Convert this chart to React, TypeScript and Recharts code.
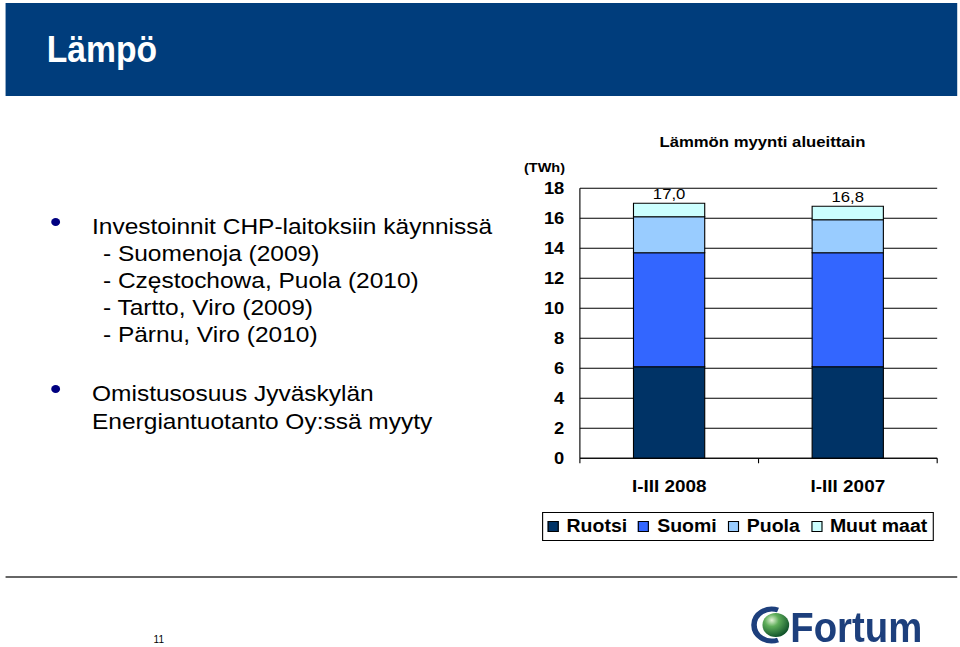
import React from "react"
import { BarChart, Bar, XAxis, YAxis, CartesianGrid, LabelList } from "recharts"

// slide is 4:3, shown stretched to 960 wide
const STRETCH = 960 / 862.5

const categories = ["I-III 2008", "I-III 2007"]
const ruotsi = [6.1, 6.1]
const suomi = [7.6, 7.6]
const puola = [2.4, 2.2]
const muutMaat = [0.9, 0.9]
const totals = [17.0, 16.8]
const yTicks = [0, 2, 4, 6, 8, 10, 12, 14, 16, 18]

const series = [
  { key: "ruotsi", name: "Ruotsi", color: "#003366", values: ruotsi },
  { key: "suomi", name: "Suomi", color: "#3366FF", values: suomi },
  { key: "puola", name: "Puola", color: "#99CCFF", values: puola },
  { key: "muut", name: "Muut maat", color: "#CCFFFF", values: muutMaat },
]

const data = categories.map((c, i) => {
  const row: Record<string, string | number> = { name: c, total: totals[i] }
  series.forEach((s) => (row[s.key] = s.values[i]))
  return row
})

const bulletLines = [
  { text: "Investoinnit CHP-laitoksiin käynnissä", top: 212.7, x: 82.7, bullet: true },
  { text: "- Suomenoja (2009)", top: 239.7, x: 92.5 },
  { text: "- Częstochowa, Puola (2010)", top: 266.7, x: 92.5 },
  { text: "- Tartto, Viro (2009)", top: 293.7, x: 92.5 },
  { text: "- Pärnu, Viro (2010)", top: 320.7, x: 92.5 },
  { text: "Omistusosuus Jyväskylän", top: 379.7, x: 82.7, bullet: true },
  { text: "Energiantuotanto Oy:ssä myyty", top: 407.7, x: 82.7 },
]

const sans = "'Liberation Sans', Arial, Helvetica, sans-serif"
const TICK_GAP = 22 // tickSize 6 + tickMargin 16

// category label plus the small marks at category boundaries
function CategoryTick(props: any) {
  const { x, y, payload, index, visibleTicksCount } = props
  const half = payload?.offset ?? 80
  const axisY = y - TICK_GAP
  return (
    <g>
      <line x1={x - half} x2={x - half} y1={axisY} y2={axisY + 5} stroke="#000" />
      {index === visibleTicksCount - 1 && (
        <line x1={x + half} x2={x + half} y1={axisY} y2={axisY + 5} stroke="#000" />
      )}
      <text
        x={x}
        y={y}
        dy="0.71em"
        textAnchor="middle"
        fill="#000"
        fontSize={17}
        fontWeight="bold"
        fontFamily={sans}
      >
        {payload.value}
      </text>
    </g>
  )
}

function FortumLogo() {
  return (
    <svg width={218} height={48} style={{ position: "absolute", left: 640, top: 600 }}>
      <defs>
        <radialGradient id="ball" cx="35%" cy="30%" r="75%">
          <stop offset="0%" stopColor="#e4f3d8" />
          <stop offset="35%" stopColor="#5fae5a" />
          <stop offset="100%" stopColor="#0b4d27" />
        </radialGradient>
      </defs>
      <g transform="translate(32 0)">
        <path d="M 27 10 A 16 16 0 1 0 27 40" fill="none" stroke="#1d3f7c" strokeWidth={5} />
        <circle cx={25} cy={25} r={12} fill="url(#ball)" />
        <text
          transform="translate(38 42) scale(0.82 1)"
          fontFamily={sans}
          fontWeight="bold"
          fontSize={42}
          fill="#1d3f7c"
        >
          Fortum
        </text>
      </g>
    </svg>
  )
}

export default function App() {
  return (
    <div
      style={{
        position: "absolute",
        left: 0,
        top: 0,
        width: 862.5,
        height: 647,
        background: "#fff",
        transform: `scale(${STRETCH}, 1)`,
        transformOrigin: "0 0",
        fontFamily: sans,
      }}
    >
      <div style={{ position: "absolute", left: 4.5, top: 3, width: 855.5, height: 93, background: "#003D7C" }} />
      <div
        style={{
          position: "absolute",
          left: 42.2,
          top: 31.5,
          fontWeight: "bold",
          fontSize: 36,
          lineHeight: "36px",
          color: "#fff",
          transform: "scaleX(0.84)",
          transformOrigin: "0 0",
        }}
      >
        Lämpö
      </div>

      {bulletLines.map((l, i) => (
        <React.Fragment key={i}>
          {l.bullet && (
            <div
              style={{
                position: "absolute",
                left: 45.5,
                top: l.top + 5.5,
                width: 8,
                height: 8,
                borderRadius: "50%",
                background: "#000080",
              }}
            />
          )}
          <div
            style={{
              position: "absolute",
              left: l.x,
              top: l.top,
              fontSize: 22,
              lineHeight: "27px",
              color: "#000",
              whiteSpace: "nowrap",
            }}
          >
            {l.text}
          </div>
        </React.Fragment>
      ))}

      <div
        style={{
          position: "absolute",
          left: 685 - 150,
          width: 300,
          top: 133,
          textAlign: "center",
          fontWeight: "bold",
          fontSize: 15,
          lineHeight: "18px",
        }}
      >
        Lämmön myynti alueittain
      </div>
      <div
        style={{
          position: "absolute",
          left: 447.6,
          width: 60,
          top: 160,
          textAlign: "right",
          fontWeight: "bold",
          fontSize: 13,
          lineHeight: "15px",
        }}
      >
        (TWh)
      </div>

      <div style={{ position: "absolute", left: 460, top: 120 }}>
        <BarChart
          width={400}
          height={400}
          data={data}
          margin={{ top: 68.3, right: 18, bottom: 21.7, left: 1 }}
          barCategoryGap="30%"
        >
          <CartesianGrid horizontal vertical={false} stroke="#000" strokeWidth={1} />
          <XAxis
            dataKey="name"
            axisLine={{ stroke: "#000" }}
            tickLine={false}
            tickSize={6}
            tickMargin={16}
            height={40}
            interval={0}
            tick={<CategoryTick />}
          />
          <YAxis
            domain={[0, 18]}
            ticks={yTicks}
            interval={0}
            width={60}
            axisLine={{ stroke: "#000" }}
            tickLine={false}
            tickMargin={8}
            tick={{ fill: "#000", fontSize: 16.5, fontWeight: "bold", fontFamily: sans }}
          />
          <YAxis
            yAxisId="edge"
            orientation="right"
            domain={[0, 18]}
            width={0}
            tick={false}
            tickLine={false}
            axisLine={{ stroke: "#000" }}
          />
          {series.map((s, i) => (
            <Bar
              key={s.key}
              dataKey={s.key}
              name={s.name}
              stackId="a"
              fill={s.color}
              stroke="#000"
              strokeWidth={1}
              isAnimationActive={false}
            >
              {i === series.length - 1 && (
                <LabelList
                  dataKey="total"
                  position="top"
                  offset={4}
                  formatter={(v: number) => v.toFixed(1).replace(".", ",")}
                  style={{ fill: "#000", fontSize: 15, fontFamily: sans }}
                />
              )}
            </Bar>
          ))}
        </BarChart>
      </div>

      <div
        style={{
          position: "absolute",
          left: 487,
          top: 512,
          width: 352,
          height: 29,
          border: "1px solid #000",
          display: "flex",
          alignItems: "center",
          paddingLeft: 4,
          boxSizing: "border-box",
          fontWeight: "bold",
          fontSize: 17.5,
          whiteSpace: "nowrap",
        }}
      >
        {series.map((s) => (
          <div key={s.key} style={{ display: "flex", alignItems: "center", marginRight: 10 }}>
            <span
              style={{
                display: "inline-block",
                width: 8,
                height: 9,
                background: s.color,
                border: "1px solid #000",
                marginRight: 7,
              }}
            />
            {s.name}
          </div>
        ))}
      </div>

      <div style={{ position: "absolute", left: 4.5, top: 576, width: 855.5, height: 2, background: "#666" }} />
      <div
        style={{
          position: "absolute",
          left: 138,
          top: 633,
          fontSize: 11,
          lineHeight: "12px",
          transform: "scaleX(0.82)",
          transformOrigin: "0 0",
        }}
      >
        11
      </div>
      <FortumLogo />
    </div>
  )
}
